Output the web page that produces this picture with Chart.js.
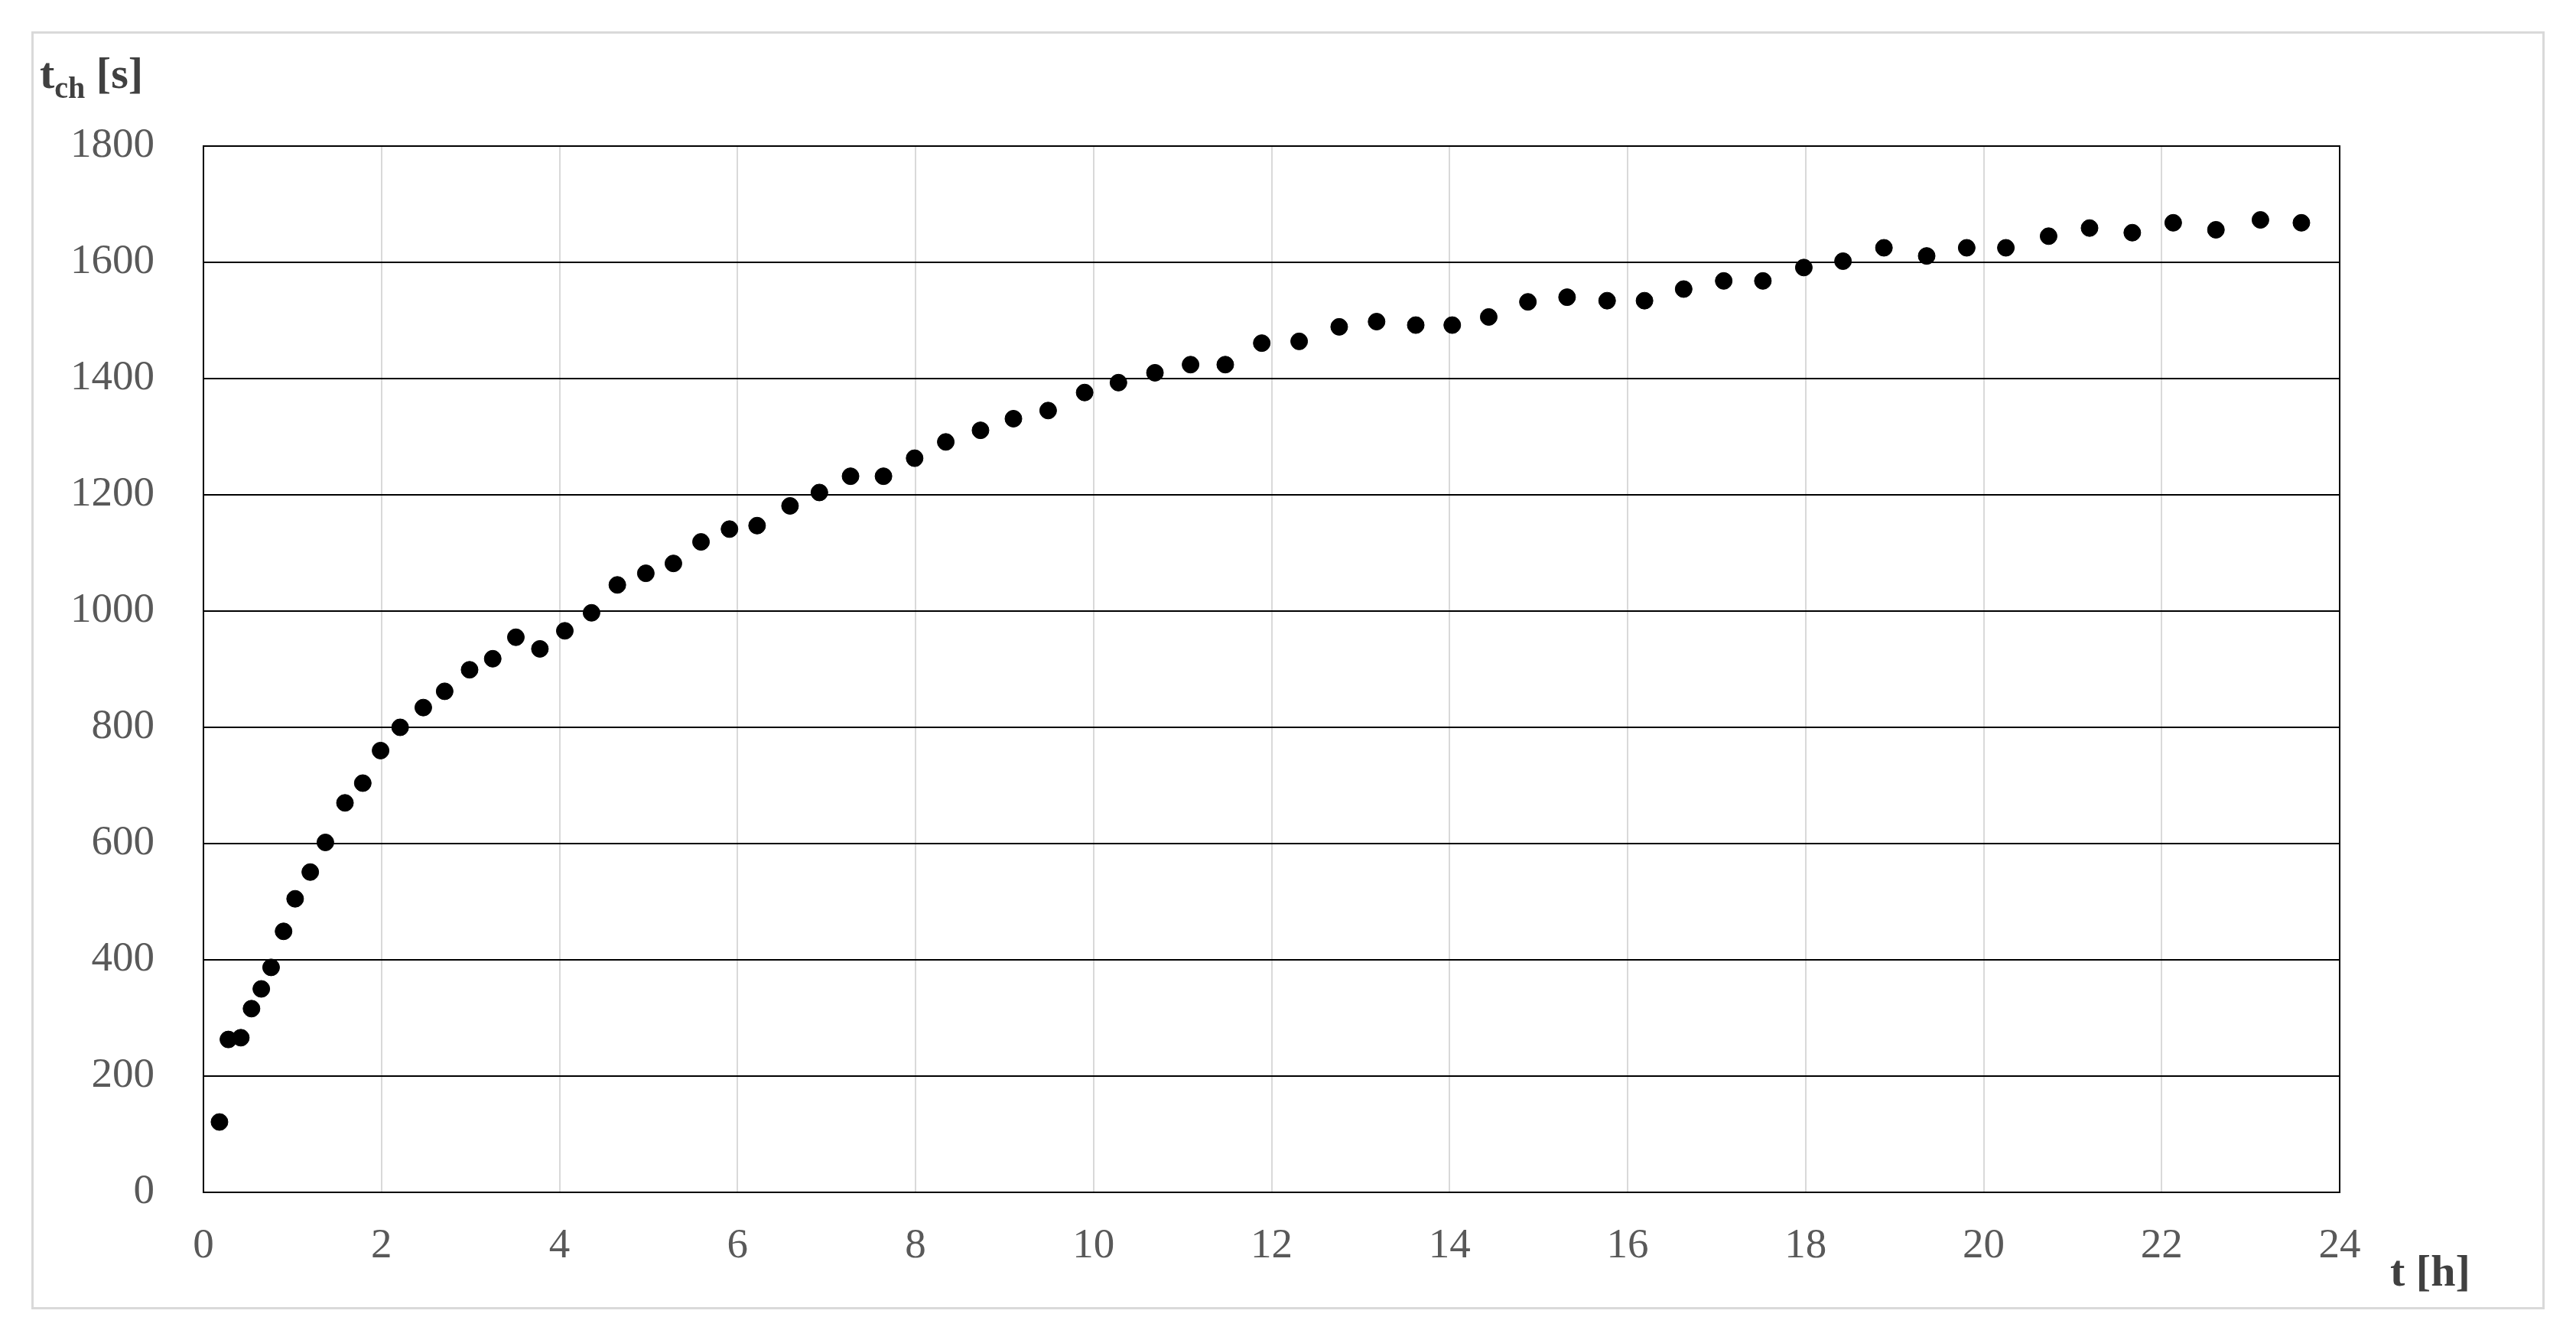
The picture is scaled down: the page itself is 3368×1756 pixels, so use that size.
<!DOCTYPE html>
<html>
<head>
<meta charset="utf-8">
<script src="https://cdn.jsdelivr.net/npm/chart.js@4/dist/chart.umd.min.js"></script>
<style>
  html, body { margin: 0; padding: 0; background: #fff; }
  #wrap { position: relative; width: 3368px; height: 1756px; }
  #frame { position: absolute; left: 41px; top: 41px; width: 3286px; height: 1671px; border: 3px solid #d9d9d9; box-sizing: border-box; }
  .lbl { position: absolute; font-family: 'Liberation Serif', serif; font-weight: bold; color: #404040; font-size: 58px; }
  canvas { position: absolute; left: 0; top: 0; }
</style>
</head>
<body>
<div id="wrap">
  <div id="frame"></div>
  <canvas id="chart" width="3368" height="1756"></canvas>
  <div class="lbl" style="left:52px; top:62px;">t<sub style="font-size:40px">ch</sub> [s]</div>
  <div class="lbl" style="left:3125px; top:1628px;">t [h]</div>
</div>
<script>
// time [h]
const hours = [0.18, 0.28, 0.42, 0.54, 0.65, 0.76, 0.90, 1.03, 1.20, 1.37, 1.59, 1.79, 1.99, 2.21, 2.47,
  2.71, 2.99, 3.25, 3.51, 3.78, 4.06, 4.36, 4.65, 4.97, 5.28, 5.59, 5.91, 6.22, 6.59, 6.92, 7.27, 7.64,
  7.99, 8.34, 8.73, 9.10, 9.49, 9.90, 10.28, 10.69, 11.09, 11.48, 11.89, 12.31, 12.76, 13.18, 13.62,
  14.03, 14.44, 14.88, 15.32, 15.77, 16.19, 16.63, 17.08, 17.52, 17.98, 18.42, 18.88, 19.36, 19.81,
  20.25, 20.73, 21.19, 21.67, 22.13, 22.61, 23.11, 23.57];
// t_ch [s]
const tch = [121, 263, 266, 316, 350, 387, 449, 505, 551, 602, 670, 704, 760, 800, 834,
  862, 899, 918, 955, 935, 966, 997, 1045, 1065, 1082, 1119, 1141, 1147, 1181, 1204, 1232, 1232,
  1263, 1291, 1311, 1331, 1345, 1376, 1393, 1410, 1424, 1424, 1461, 1464, 1489, 1498, 1492,
  1492, 1506, 1532, 1540, 1534, 1534, 1554, 1568, 1568, 1591, 1602, 1625, 1611, 1625,
  1625, 1645, 1659, 1651, 1668, 1656, 1673, 1668];

const PAD = { left: 60, top: 191, right: 309, bottom: 40 };
const AREA = { left: 266, bottom: 1559 };

const frameBorder = {
  id: 'frameBorder',
  afterDraw(chart) {
    const { ctx, chartArea: a } = chart;
    ctx.save();
    ctx.strokeStyle = '#000';
    ctx.lineWidth = 2;
    ctx.strokeRect(a.left, a.top, a.right - a.left, a.bottom - a.top);
    ctx.restore();
  }
};

const tickFont = { family: "'Liberation Serif', serif", size: 55 };

new Chart(document.getElementById('chart'), {
  type: 'scatter',
  data: {
    datasets: [{
      data: hours.map((h, i) => ({ x: h, y: tch[i] })),
      backgroundColor: '#000',
      borderColor: '#000',
      pointRadius: 11
    }]
  },
  options: {
    responsive: false,
    animation: false,
    devicePixelRatio: 1,
    layout: { padding: PAD },
    plugins: { legend: { display: false }, tooltip: { enabled: false } },
    scales: {
      x: {
        type: 'linear', min: 0, max: 24,
        ticks: { stepSize: 2, color: '#595959', font: tickFont, padding: 38, maxRotation: 0,
          callback: (v) => String(v) },
        grid: { color: '#d9d9d9', lineWidth: 2, drawTicks: false },
        border: { display: false },
        afterFit(axis) { axis.height = 1756 - AREA.bottom - PAD.bottom; }
      },
      y: {
        min: 0, max: 1800,
        ticks: { stepSize: 200, color: '#595959', font: tickFont, padding: 64,
          callback: (v) => String(v) },
        grid: { color: '#000', lineWidth: 2, drawTicks: false },
        border: { display: false },
        afterFit(axis) { axis.width = AREA.left - PAD.left; }
      }
    }
  },
  plugins: [frameBorder]
});
</script>
</body>
</html>
